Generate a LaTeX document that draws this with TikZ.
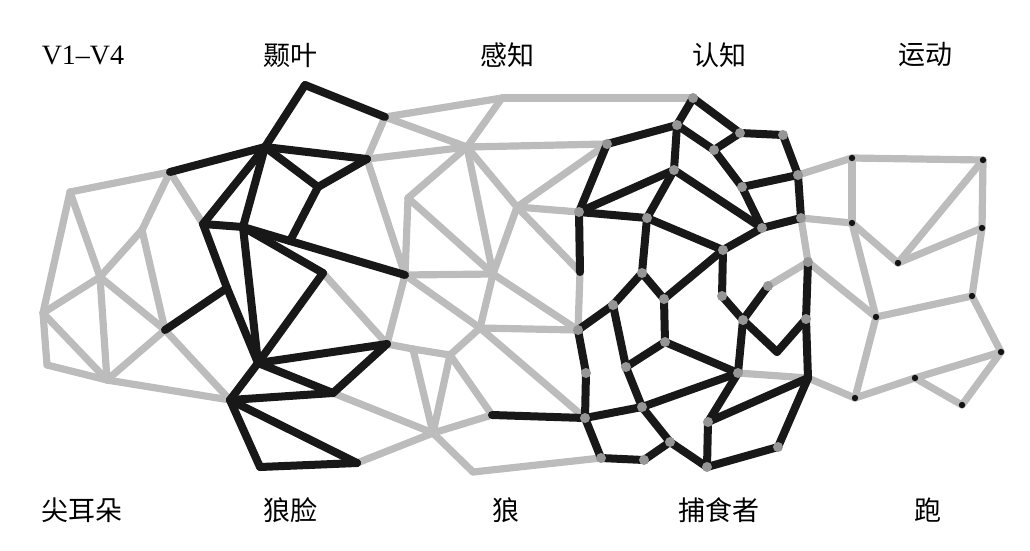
\documentclass[tikz,border=0pt]{standalone}
\usepackage{fontspec}
\newfontfamily\cjk{Noto Sans CJK SC}
\newfontfamily\tms{Liberation Serif}
\begin{document}
\begin{tikzpicture}[x=1pt,y=-1pt,
  gl/.style={line width=7.2pt,draw={rgb,255:red,188;green,188;blue,188},line cap=round,line join=round},
  bl/.style={line width=8pt,draw={rgb,255:red,24;green,24;blue,24},line cap=round,line join=round},
  gd/.style={fill={rgb,255:red,150;green,150;blue,150}},
  kd/.style={fill={rgb,255:red,20;green,20;blue,20}},
  lab/.style={inner sep=0pt,font=\fontsize{27}{30}\selectfont\cjk},
  labl/.style={inner sep=0pt,font=\fontsize{28}{30}\selectfont\tms}]
\useasboundingbox (0,0) rectangle (1030,550);
% coordinates
\foreach \n/\x/\y in {L1/70/192,L2/170/172,L3/142/230,L4/100/277,L5/43/313,L6/47/365,L7/107/380,L8/165/330,
 B0/305/85,B1/265/147,B2/203/224,B3/367/159,B4/318/187,B6/243/227,B7/290/241,B9/405/275,Bp/227/288,Bh/258/363,
 Bk/323/273,Bm/387/344,Bn/333/393,Bq/230/400,Br/357/463,Bs/260/467,
 N1/385/117,N2/502/98,N3/693/98,Nh/467/147,N4/408/198,N5/493/274,N6/517/207,N7/480/328,N8/450/355,N9/413/349,
 N10/492/415,N11/473/472,Gx/433/433,
 C1/607/144,C2/579/212,C3/580/272,C4/578/330,C5/585/418,C6/601/458,C7/644/460,C8/670/442,C9/642/407,C10/626/367,
 C11/613/305,C12/642/273,C13/586/373,C14/665/342,C15/664/299,C16/677/125,C17/674/170,C18/647/218,C19/740/133,
 C20/783/135,C21/798/175,C22/801/218,C23/762/228,C24/714/150,C25/742/187,C26/723/250,C27/808/262,C28/768/286,
 C29/806/319,C30/808/378,C31/777/352,C32/743/320,C33/722/296,C34/738/373,C35/708/422,C36/707/467,C37/778/447,
 R1/852/158,R2/983/160,R3/852/223,R4/898/263,R5/982/228,R6/855/398,R7/876/317,R8/972/296,R9/1001/352,
 R10/962/405,R11/915/378}
 \coordinate (\n) at (\x,\y);
% gray edges
\foreach \a/\b in {L1/L2,L1/L5,L1/L4,L2/L3,L2/B2,L3/L4,L3/L8,L4/L5,L4/L7,L4/L8,L5/L6,L5/L7,L6/L7,L7/L8,L7/Bq,L8/Bq,
 Bk/Bm,Bm/B9,Bm/N9,N9/N8,Bn/Gx,Br/Gx,N1/B3,B3/B9,B3/Nh,
 N1/N2,N1/Nh,N2/Nh,N2/N3,Nh/C1,Nh/N4,Nh/N5,Nh/N6,N4/B9,N4/N5,B9/N5,N6/C1,N6/C2,N6/N5,N6/C3,B9/N7,N5/N7,N5/C4,
 C3/C4,N7/C4,N7/N8,N7/C5,N9/Gx,N8/Gx,N8/N10,Gx/N10,Gx/N11,N11/C6,
 C21/R1,R1/R2,R1/R3,C22/R3,C22/C27,C27/C28,C27/R7,R3/R4,R4/R2,R2/R5,R5/R4,R3/R7,R7/R8,R8/R5,R8/R9,R9/R10,
 R10/R11,R11/R9,R6/R11,R7/R6,C34/C30,C30/R6}
 \draw[gl] (\a) -- (\b);
% black edges
\foreach \a/\b in {L2/B1,L8/Bp,
 B0/B1,B0/N1,B1/B3,B1/B4,B4/B3,B4/B7,B1/B2,B1/B6,B2/B6,B2/Bp,Bp/Bh,B6/Bh,B6/B7,B7/B9,B6/Bk,Bk/Bh,Bh/Bm,Bh/Bn,
 Bm/Bn,Bh/Bq,Bq/Bn,Bq/Br,Bq/Bs,Bs/Br,N10/C5,
 N3/C16,N3/C19,C19/C20,C20/C21,C21/C22,C22/C23,C16/C24,C24/C19,C24/C25,C25/C21,C25/C23,C1/C16,C16/C17,C17/C23,
 C2/C17,C2/C18,C18/C26,C26/C23,C17/C18,C18/C12,C1/C2,C2/C3,C26/C33,C15/C26,C4/C11,C11/C12,C12/C15,C15/C14,
 C14/C10,C14/C34,C11/C10,C10/C9,C9/C34,C4/C13,C13/C5,C5/C9,C5/C6,C6/C7,C7/C8,C9/C8,C8/C36,C36/C35,C35/C34,
 C35/C30,C36/C37,C37/C30,C33/C32,C32/C28,C32/C31,C31/C29,C29/C30,C32/C34,C27/C29}
 \draw[bl] (\a) -- (\b);
% dots
\foreach \n in {N3,C16,C19,C20,C21,C22,C23,C24,C25,C1,C2,C17,C18,C12,C26,C27,C28,C29,C33,C32,C11,C15,C14,C10,
 C13,C9,C5,C6,C7,C8,C36,C37,C4,C35,C34}
 \fill[gd] (\n) circle (5pt);
\foreach \n in {R1,R2,R3,R4,R5,R6,R7,R8,R9,R10,R11}
 \fill[kd] (\n) circle (3.2pt);
% labels
\node[labl] (t1) at (83,55) {V1–V4};
\node[lab] (t2) at (290,55) {颞叶};
\node[lab] (t3) at (507,55) {感知};
\node[lab] (t4) at (719,55) {认知};
\node[lab] (t5) at (925,55) {运动};
\node[lab] (b1) at (82,510) {尖耳朵};
\node[lab] (b2) at (290,510) {狼脸};
\node[lab] (b3) at (506,510) {狼};
\node[lab] (b4) at (719,510) {捕食者};
\node[lab] (b5) at (928,510) {跑};
\end{tikzpicture}
\end{document}
